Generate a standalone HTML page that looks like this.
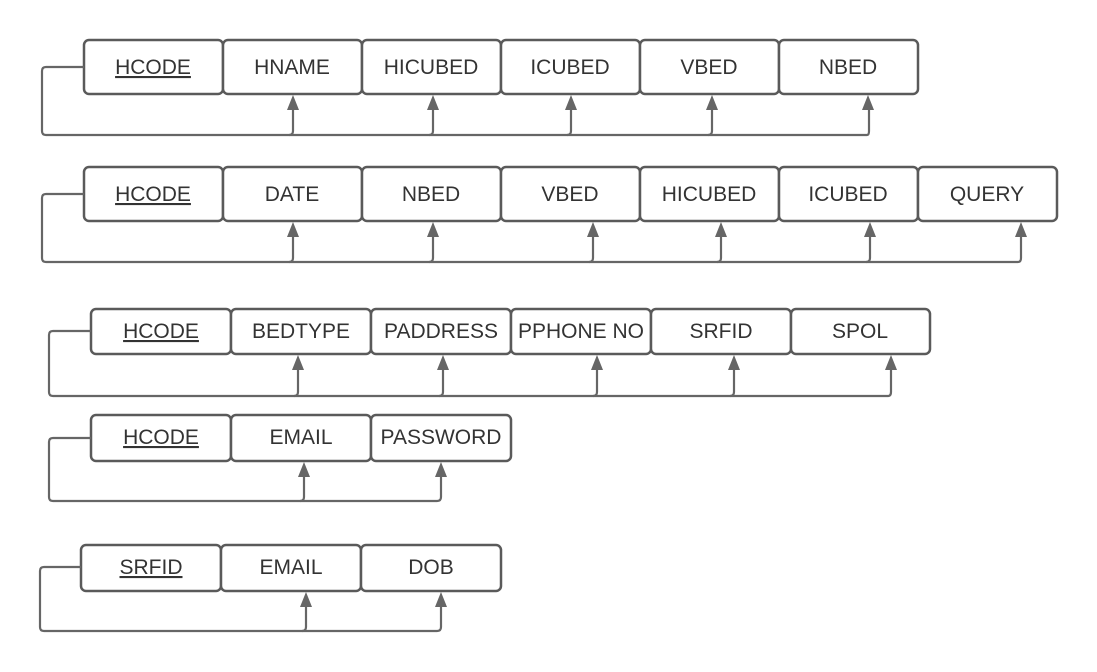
<!DOCTYPE html>
<html><head><meta charset="utf-8"><style>
html,body{margin:0;padding:0;background:#fff;width:1097px;height:672px;overflow:hidden}
text{font-family:"Liberation Sans",Arial,sans-serif;font-size:21px;fill:#333;text-anchor:middle}
.b{fill:#fff;stroke:#5a5a5a;stroke-width:2.5}
.l{fill:none;stroke:#666;stroke-width:2.2;stroke-linejoin:round}
.a{fill:#666}
</style></head><body>
<svg width="1097" height="672" xmlns="http://www.w3.org/2000/svg">
<!-- Row 1 -->
<g>
<rect class="b" x="84" y="40" width="139" height="54" rx="5"/>
<rect class="b" x="223" y="40" width="139" height="54" rx="5"/>
<rect class="b" x="362" y="40" width="139" height="54" rx="5"/>
<rect class="b" x="501" y="40" width="139" height="54" rx="5"/>
<rect class="b" x="640" y="40" width="139" height="54" rx="5"/>
<rect class="b" x="779" y="40" width="139" height="54" rx="5"/>
<text x="153" y="74" text-decoration="underline">HCODE</text>
<text x="292" y="74">HNAME</text>
<text x="431" y="74">HICUBED</text>
<text x="570" y="74">ICUBED</text>
<text x="709" y="74">VBED</text>
<text x="848" y="74">NBED</text>
<path class="l" d="M84 67 H46 Q42 67 42 71 V131 Q42 135 46 135 H867 Q869 135 869 131 V108"/>
<path class="l" d="M293 108 V131 Q293 135 289 135 M433 108 V131 Q433 135 429 135 M571 108 V131 Q571 135 567 135 M712 108 V131 Q712 135 708 135"/>
<polygon class="a" points="293,95 287,110 299,110"/>
<polygon class="a" points="433,95 427,110 439,110"/>
<polygon class="a" points="571,95 565,110 577,110"/>
<polygon class="a" points="712,95 706,110 718,110"/>
<polygon class="a" points="868,95 862,110 874,110"/>
</g>
<!-- Row 2 -->
<g>
<rect class="b" x="84" y="167" width="139" height="54" rx="5"/>
<rect class="b" x="223" y="167" width="139" height="54" rx="5"/>
<rect class="b" x="362" y="167" width="139" height="54" rx="5"/>
<rect class="b" x="501" y="167" width="139" height="54" rx="5"/>
<rect class="b" x="640" y="167" width="139" height="54" rx="5"/>
<rect class="b" x="779" y="167" width="139" height="54" rx="5"/>
<rect class="b" x="918" y="167" width="139" height="54" rx="5"/>
<text x="153" y="201" text-decoration="underline">HCODE</text>
<text x="292" y="201">DATE</text>
<text x="431" y="201">NBED</text>
<text x="570" y="201">VBED</text>
<text x="709" y="201">HICUBED</text>
<text x="848" y="201">ICUBED</text>
<text x="987" y="201">QUERY</text>
<path class="l" d="M84 194 H46 Q42 194 42 198 V258 Q42 262 46 262 H1018 Q1021 262 1021 258 V235"/>
<path class="l" d="M293 235 V258 Q293 262 289 262 M433 235 V258 Q433 262 429 262 M593 235 V258 Q593 262 589 262 M721 235 V258 Q721 262 717 262 M870 235 V258 Q870 262 866 262"/>
<polygon class="a" points="293,222 287,237 299,237"/>
<polygon class="a" points="433,222 427,237 439,237"/>
<polygon class="a" points="593,222 587,237 599,237"/>
<polygon class="a" points="721,222 715,237 727,237"/>
<polygon class="a" points="870,222 864,237 876,237"/>
<polygon class="a" points="1021,222 1015,237 1027,237"/>
</g>
<!-- Row 3 -->
<g>
<rect class="b" x="91" y="309" width="140" height="45" rx="5"/>
<rect class="b" x="231" y="309" width="140" height="45" rx="5"/>
<rect class="b" x="371" y="309" width="140" height="45" rx="5"/>
<rect class="b" x="511" y="309" width="140" height="45" rx="5"/>
<rect class="b" x="651" y="309" width="140" height="45" rx="5"/>
<rect class="b" x="791" y="309" width="139" height="45" rx="5"/>
<text x="161" y="338" text-decoration="underline">HCODE</text>
<text x="301" y="338">BEDTYPE</text>
<text x="441" y="338">PADDRESS</text>
<text x="581" y="338">PPHONE NO</text>
<text x="721" y="338">SRFID</text>
<text x="860" y="338">SPOL</text>
<path class="l" d="M91 331 H53 Q49 331 49 335 V392 Q49 396 53 396 H888 Q891 396 891 392 V368"/>
<path class="l" d="M298 368 V392 Q298 396 294 396 M443 368 V392 Q443 396 439 396 M597 368 V392 Q597 396 593 396 M734 368 V392 Q734 396 730 396"/>
<polygon class="a" points="298,355 292,370 304,370"/>
<polygon class="a" points="443,355 437,370 449,370"/>
<polygon class="a" points="597,355 591,370 603,370"/>
<polygon class="a" points="734,355 728,370 740,370"/>
<polygon class="a" points="891,355 885,370 897,370"/>
</g>
<!-- Row 4 -->
<g>
<rect class="b" x="91" y="415" width="140" height="46" rx="5"/>
<rect class="b" x="231" y="415" width="140" height="46" rx="5"/>
<rect class="b" x="371" y="415" width="140" height="46" rx="5"/>
<text x="161" y="444" text-decoration="underline">HCODE</text>
<text x="301" y="444">EMAIL</text>
<text x="441" y="444">PASSWORD</text>
<path class="l" d="M91 438 H53 Q49 438 49 442 V497 Q49 501 53 501 H437 Q441 501 441 497 V475"/>
<path class="l" d="M304 475 V497 Q304 501 300 501"/>
<polygon class="a" points="304,462 298,477 310,477"/>
<polygon class="a" points="441,462 435,477 447,477"/>
</g>
<!-- Row 5 -->
<g>
<rect class="b" x="81" y="545" width="140" height="46" rx="5"/>
<rect class="b" x="221" y="545" width="140" height="46" rx="5"/>
<rect class="b" x="361" y="545" width="140" height="46" rx="5"/>
<text x="151" y="574" text-decoration="underline">SRFID</text>
<text x="291" y="574">EMAIL</text>
<text x="431" y="574">DOB</text>
<path class="l" d="M81 567 H44 Q40 567 40 571 V627 Q40 631 44 631 H437 Q441 631 441 627 V605"/>
<path class="l" d="M306 605 V627 Q306 631 302 631"/>
<polygon class="a" points="306,592 300,607 312,607"/>
<polygon class="a" points="441,592 435,607 447,607"/>
</g>
</svg>
</body></html>
